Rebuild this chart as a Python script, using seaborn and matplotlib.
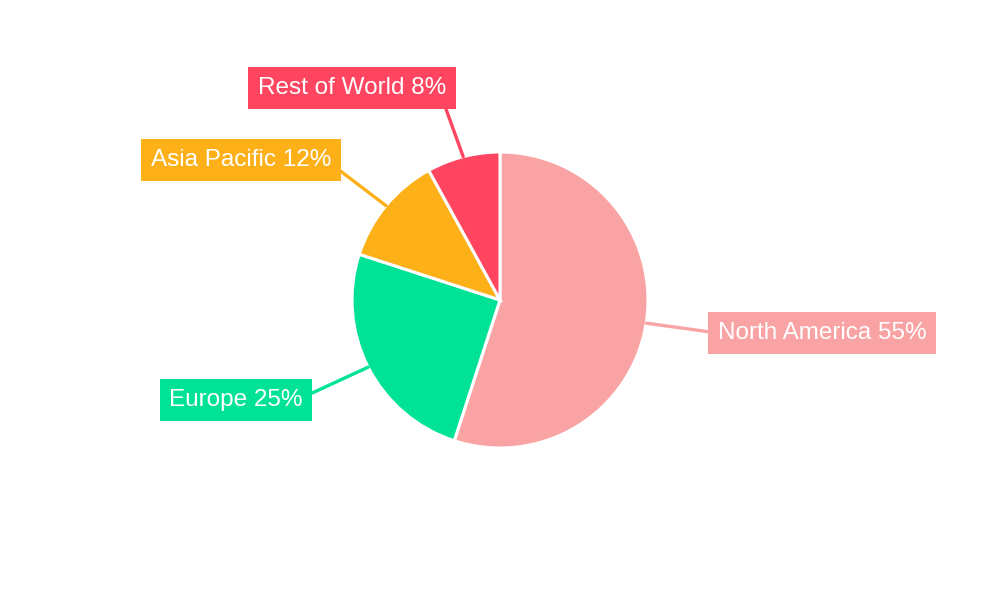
import numpy as np
import matplotlib.pyplot as plt
import seaborn as sns

# data
regions = ['North America', 'Europe', 'Asia Pacific', 'Rest of World']
shares = [55, 25, 12, 8]
colors = ['#F9A3A4', '#00E396', '#FEB019', '#FF4560']

# label box centres (pixels, y from top) and where the leader line meets the box
label_pos = [(822, 333), (236, 400), (241, 160), (352, 88)]
line_anchor = [(0, 0.5), (1, 0.62), (1, 0.32), (0.98, 0)]

sns.set_theme(style='white')
plt.rcParams['font.family'] = ['Liberation Sans', 'DejaVu Sans']

fig = plt.figure(figsize=(10, 6), dpi=100)
ax = fig.add_axes([0, 0, 1, 1])

R = 148
cx, cy = 500, 300
wedges, _ = ax.pie(shares, colors=sns.color_palette(colors), startangle=90,
                   counterclock=False, center=(cx, cy), radius=R,
                   wedgeprops=dict(edgecolor='white', linewidth=2.2))
ax.set_xlim(0, 1000)
ax.set_ylim(0, 600)
ax.set_aspect('equal')
ax.axis('off')

for w, name, val, col, (lx, ly), rp in zip(wedges, regions, shares, colors,
                                           label_pos, line_anchor):
    mid = np.deg2rad((w.theta1 + w.theta2) / 2)
    px, py = cx + R * np.cos(mid), cy + R * np.sin(mid)
    ax.annotate(f'{name} {val}%', xy=(px, py), xytext=(lx, 600 - ly),
                ha='center', va='center', fontsize=17.5, color='white',
                bbox=dict(boxstyle='square,pad=0.4', fc=col, ec='none'),
                arrowprops=dict(arrowstyle='-', color=col, lw=2.4, relpos=rp,
                                shrinkA=0, shrinkB=0))

fig.savefig('out.png', dpi=100, facecolor='white')
